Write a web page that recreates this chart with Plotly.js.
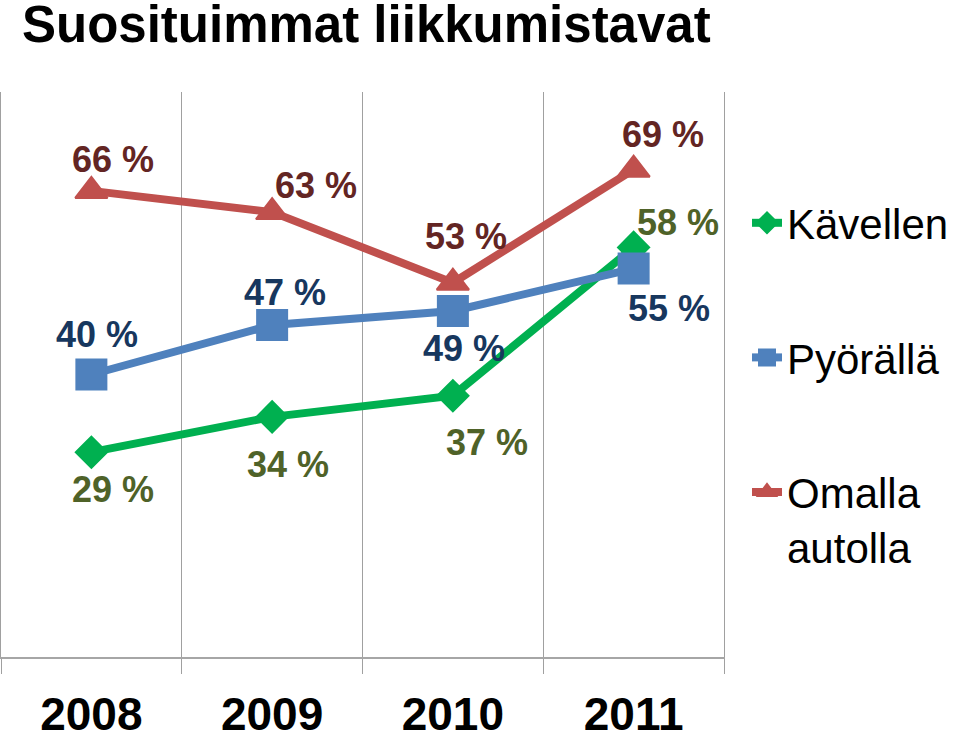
<!DOCTYPE html>
<html>
<head>
<meta charset="utf-8">
<script src="https://cdn.plot.ly/plotly-3.0.1.min.js"></script>
<style>html,body{margin:0;padding:0;background:#fff;}#chart{width:960px;height:740px;}</style>
</head>
<body>
<div id="chart"></div>
<script>
// ---- data ----
const years = ['2008', '2009', '2010', '2011'];
const seriesNames = ['Kävellen', 'Pyörällä', 'Omalla<br>autolla'];
const kavellen = [29, 34, 37, 58];
const pyoralla = [40, 47, 49, 55];
const omallaAutolla = [66, 63, 53, 69];

// ---- styles ----
const BOLD = '"Liberation Sans", Arial, sans-serif';
const REG = '"Liberation Sans", Arial, sans-serif';
const styles = [
  {line: '#00B050', label: '#4F6228', symbol: 'diamond', size: 24,
   offsets: [[22, -37], [16, -48], [34, -47], [44, 25]]},
  {line: '#4F81BD', label: '#17375E', symbol: 'square', size: 30,
   offsets: [[6, 40], [13, 33], [11, -38], [35, -40]]},
  {line: '#C0504D', label: '#632523', symbol: 'triangle-up', size: 28,
   offsets: [[22, 31], [44, 27], [13, 46], [29, 35]]}
];
const values = [kavellen, pyoralla, omallaAutolla];
const drawOrder = [0, 2, 1];

const traces = drawOrder.map(i => ({
  type: 'scatter', mode: 'lines+markers',
  x: years, y: values[i], name: seriesNames[i],
  legendrank: i + 1, legendgroup: 'g' + i,
  line: {color: styles[i].line, width: 8},
  marker: {symbol: styles[i].symbol, size: styles[i].size, color: styles[i].line,
           line: {color: styles[i].line, width: 2}},
  hoverinfo: 'skip'
}));

const annotations = [];
values.forEach((vals, i) => {
  vals.forEach((v, j) => {
    annotations.push({
      x: j, y: v, xref: 'x', yref: 'y', text: '<b>' + v + ' %</b>', showarrow: false,
      xshift: styles[i].offsets[j][0], yshift: styles[i].offsets[j][1],
      font: {family: BOLD, size: 36, color: styles[i].label}
    });
  });
});

const plotLeft = 1, plotRight = 724, plotTop = 92, plotBottom = 657;
const layout = {
  width: 960, height: 740,
  paper_bgcolor: '#fff', plot_bgcolor: '#fff',
  margin: {l: plotLeft, r: 960 - plotRight, t: plotTop, b: 740 - plotBottom, pad: 0},
  title: {text: '<b>Suosituimmat liikkumistavat</b>', x: 22 / 960, xanchor: 'left',
          y: 0.992, yanchor: 'top', xref: 'container', yref: 'container',
          font: {family: BOLD, size: 51, color: '#000'}},
  xaxis: {type: 'category', range: [-0.5, 3.5], tickson: 'boundaries',
          showgrid: true, gridcolor: '#a0a0a0', gridwidth: 1,
          ticks: 'outside', ticklen: 15, tickcolor: '#a0a0a0', tickwidth: 1,
          showline: true, linecolor: '#a6a6a6', linewidth: 2,
          ticklabelstandoff: 16,
          tickfont: {family: BOLD, size: 46, color: '#000', weight: 'bold'},
          fixedrange: true},
  yaxis: {range: [0, 80], showgrid: false, zeroline: false, showticklabels: false,
          ticks: '', showline: true, mirror: true, linecolor: '#a0a0a0', linewidth: 1,
          fixedrange: true},
  showlegend: true,
  legend: {xref: 'paper', yref: 'paper',
           x: (747 - plotLeft) / (plotRight - plotLeft), xanchor: 'left',
           y: (plotBottom - 189) / (plotBottom - plotTop), yanchor: 'top',
           tracegroupgap: 77, valign: 'top',
           font: {family: REG, size: 42, color: '#000'}, bgcolor: 'rgba(0,0,0,0)',
           traceorder: 'grouped'},
  annotations: annotations
};

Plotly.newPlot('chart', traces, layout, {displayModeBar: false, staticPlot: true});
</script>
</body>
</html>
